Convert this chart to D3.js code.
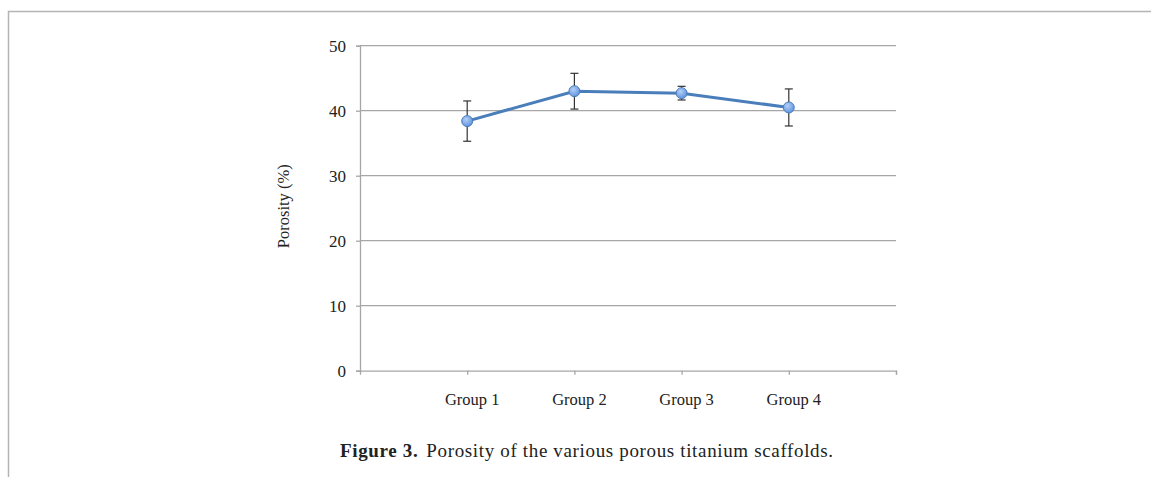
<!DOCTYPE html>
<html>
<head>
<meta charset="utf-8">
<script src="https://cdn.jsdelivr.net/npm/d3@7"></script>
<style>
  body { margin: 0; background: #fff; }
  svg { display: block; }
</style>
</head>
<body>
<div id="chart"></div>
<script>
const groups = ['Group 1', 'Group 2', 'Group 3', 'Group 4'];
const porosity = [38.4, 43.0, 42.7, 40.5];
const porositySD = [3.1, 2.75, 1.05, 2.85];
const yTicks = [0, 10, 20, 30, 40, 50];

const W = 1151, H = 477;
const plot = { left: 360, right: 896, top: 45.7, bottom: 370.7 };

const svg = d3.select('#chart').append('svg')
  .attr('width', W)
  .attr('height', H);

// figure frame (top and left rules)
svg.append('path')
  .attr('d', `M8.5,${H} V11.5 H${W}`)
  .attr('fill', 'none')
  .attr('stroke', '#b4b4b4')
  .attr('stroke-width', 1.5);

const y = d3.scaleLinear().domain([0, 50]).range([plot.bottom, plot.top]);
// categories sit on ticks 1..4 of a 0..5 axis
const x = d3.scaleLinear().domain([0, groups.length + 1]).range([plot.left, plot.right]);

const serif = '"Liberation Serif", "DejaVu Serif", serif';

// gridlines
svg.append('g')
  .selectAll('line')
  .data(yTicks.filter(d => d > 0))
  .join('line')
  .attr('x1', plot.left)
  .attr('x2', plot.right)
  .attr('y1', d => y(d))
  .attr('y2', d => y(d))
  .attr('stroke', '#a6a6a6')
  .attr('stroke-width', 1.3);

// y axis
const yAxis = svg.append('g')
  .attr('transform', `translate(${plot.left},0)`)
  .call(d3.axisLeft(y).tickValues(yTicks).tickSize(4).tickPadding(10));
yAxis.select('.domain').attr('stroke', '#a6a6a6').attr('stroke-width', 1.3);
yAxis.selectAll('.tick line').attr('stroke', '#a6a6a6').attr('stroke-width', 1.3);
yAxis.selectAll('.tick text')
  .style('font-family', serif)
  .style('font-size', '17px')
  .attr('fill', '#222');

// x axis
const xAxis = svg.append('g')
  .attr('transform', `translate(0,${plot.bottom})`)
  .call(d3.axisBottom(x)
    .tickValues(d3.range(1, groups.length + 2))
    .tickSize(4)
    .tickFormat(''));
xAxis.select('.domain').attr('stroke', '#a6a6a6').attr('stroke-width', 1.3);
xAxis.selectAll('.tick line').attr('stroke', '#a6a6a6').attr('stroke-width', 1.3);

svg.append('g')
  .selectAll('text')
  .data(groups)
  .join('text')
  .attr('x', (d, i) => x(i + 1) + 5)
  .attr('y', 405)
  .attr('text-anchor', 'middle')
  .style('font-family', serif)
  .style('font-size', '16.5px')
  .attr('fill', '#222')
  .text(d => d);

// y label
svg.append('text')
  .attr('transform', `translate(289,${(plot.top + plot.bottom) / 2 - 2}) rotate(-90)`)
  .attr('text-anchor', 'middle')
  .style('font-family', serif)
  .style('font-size', '16.5px')
  .attr('fill', '#222')
  .text('Porosity (%)');

// series
const pts = porosity.map((v, i) => ({ x: x(i + 1), v, sd: porositySD[i] }));

const defs = svg.append('defs');
const grad = defs.append('radialGradient')
  .attr('id', 'mk')
  .attr('cx', '40%').attr('cy', '35%').attr('r', '70%');
grad.append('stop').attr('offset', '0%').attr('stop-color', '#b4d0f6');
grad.append('stop').attr('offset', '100%').attr('stop-color', '#5b8fdc');

svg.append('path')
  .datum(pts)
  .attr('d', d3.line().x(d => d.x).y(d => y(d.v)))
  .attr('fill', 'none')
  .attr('stroke', '#4a7ebb')
  .attr('stroke-width', 3);

// error bars
const eb = svg.append('g')
  .selectAll('g')
  .data(pts)
  .join('g')
  .attr('stroke', '#333')
  .attr('stroke-width', 1.2);
eb.append('line')
  .attr('x1', d => d.x).attr('x2', d => d.x)
  .attr('y1', d => y(d.v + d.sd)).attr('y2', d => y(d.v - d.sd));
eb.append('line')
  .attr('x1', d => d.x - 4).attr('x2', d => d.x + 4)
  .attr('y1', d => y(d.v + d.sd)).attr('y2', d => y(d.v + d.sd));
eb.append('line')
  .attr('x1', d => d.x - 4).attr('x2', d => d.x + 4)
  .attr('y1', d => y(d.v - d.sd)).attr('y2', d => y(d.v - d.sd));

svg.append('g')
  .selectAll('circle')
  .data(pts)
  .join('circle')
  .attr('cx', d => d.x)
  .attr('cy', d => y(d.v))
  .attr('r', 5.5)
  .attr('fill', 'url(#mk)')
  .attr('stroke', '#4a7ebb')
  .attr('stroke-width', 1);

// caption
const cap = svg.append('text')
  .attr('x', 340)
  .attr('y', 457)
  .style('font-family', serif)
  .style('font-size', '19px')
  .style('letter-spacing', '0.65px')
  .attr('fill', '#222');
cap.append('tspan').style('font-weight', 'bold').text('Figure 3.');
cap.append('tspan').attr('dx', 8).text('Porosity of the various porous titanium scaffolds.');
</script>
</body>
</html>
